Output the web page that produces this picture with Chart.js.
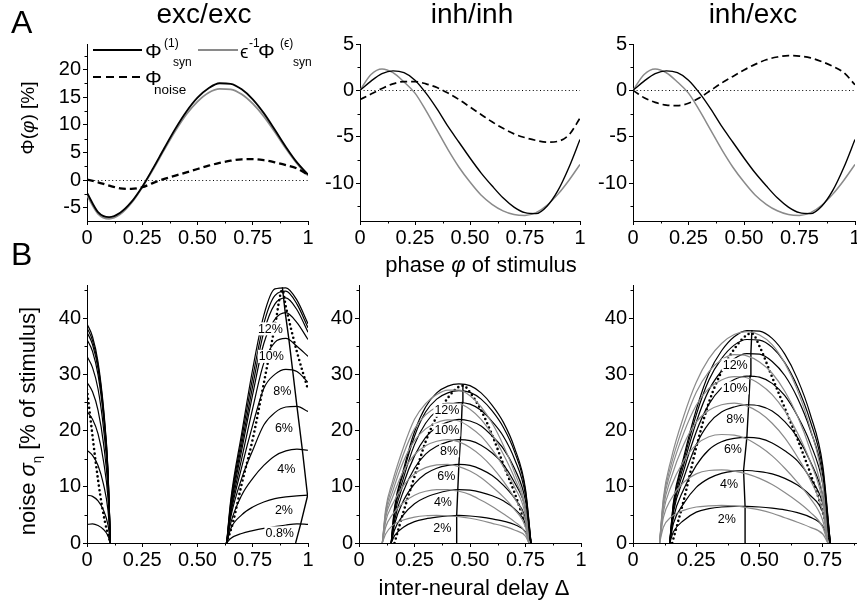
<!DOCTYPE html>
<html>
<head>
<meta charset="utf-8">
<script src="https://cdn.jsdelivr.net/npm/chart.js@4"></script>
<style>
html, body { margin: 0; padding: 0; background: #fff; overflow: hidden; }
#fig { position: relative; width: 857px; height: 606px; overflow: hidden;
       font-family: "Liberation Sans", Arial, sans-serif; color: #000; }
canvas { position: absolute; left: 0; top: 0; }
.t { position: absolute; white-space: nowrap; line-height: 1; }
.c { transform: translateX(-50%); }
.rot { transform: translate(-50%, -50%) rotate(-90deg); }
.ln { position: absolute; }
</style>
</head>
<body>
<div id="fig">
  <canvas id="a1" width="857" height="606"></canvas>
  <canvas id="a2" width="857" height="606"></canvas>
  <canvas id="a3" width="930" height="606"></canvas>
  <canvas id="b1" width="857" height="606"></canvas>
  <canvas id="b2" width="857" height="606"></canvas>
  <canvas id="b3" width="930" height="606"></canvas>

  <div class="t" style="left:11px;top:6px;font-size:32px">A</div>
  <div class="t" style="left:11px;top:238px;font-size:32px">B</div>
  <div class="t c" style="left:204px;top:0px;font-size:28px">exc/exc</div>
  <div class="t c" style="left:472px;top:0px;font-size:28px">inh/inh</div>
  <div class="t c" style="left:753px;top:0px;font-size:28px">inh/exc</div>
  <div class="t c" style="left:481px;top:254px;font-size:22px">phase <i>φ</i> of stimulus</div>
  <div class="t c" style="left:474px;top:577px;font-size:22px">inter-neural delay Δ</div>
  <div class="t rot" style="left:27px;top:118px;font-size:19px">Φ(<i>φ</i>) [%]</div>
  <div class="t rot" style="left:30px;top:421px;font-size:22px">noise <i>σ</i><sub style="font-size:13px">η</sub> [% of stimulus]</div>

  <!-- legend of panel A, exc/exc -->
  <div class="ln" style="left:93px;top:49px;width:49px;height:1.8px;background:#000"></div>
  <div class="t" style="left:145px;top:40px;font-size:21px">Φ</div>
  <div class="t" style="left:164px;top:37px;font-size:12px">(1)</div>
  <div class="t" style="left:173px;top:56px;font-size:12px">syn</div>
  <div class="ln" style="left:198px;top:49px;width:40px;height:1.8px;background:#8a8a8a"></div>
  <div class="t" style="left:240px;top:42px;font-size:19px">ϵ</div>
  <div class="t" style="left:249px;top:37px;font-size:12px">-1</div>
  <div class="t" style="left:258px;top:40px;font-size:21px">Φ</div>
  <div class="t" style="left:280px;top:37px;font-size:12px">(ϵ)</div>
  <div class="t" style="left:293px;top:56px;font-size:12px">syn</div>
  <div class="ln" style="left:93px;top:76px;width:48px;height:2.2px;background:repeating-linear-gradient(90deg,#000 0 8px,transparent 8px 13px)"></div>
  <div class="t" style="left:145px;top:67px;font-size:21px">Φ</div>
  <div class="t" style="left:154px;top:83px;font-size:13.5px">noise</div>
</div>

<script>
const FONT = '"Liberation Sans", Arial, sans-serif';
const GRAY = '#8a8a8a';

// ---- tick values / labels ----
const unitTicks = [0, 0.25, 0.5, 0.75, 1];
const unitTickLabels = ['0', '0.25', '0.50', '0.75', '1'];
const excPhiTicks = [-5, 0, 5, 10, 15, 20];
const inhPhiTicks = [-10, -5, 0, 5];
const noiseTicks = [0, 10, 20, 30, 40];

// ---- panel A: phase response, Phi(phase) in % ----
const phase = [0, 0.05, 0.1, 0.15, 0.2, 0.25, 0.3, 0.35, 0.4, 0.45, 0.5,
               0.55, 0.6, 0.65, 0.7, 0.75, 0.8, 0.85, 0.9, 0.95, 1];
const excSyn    = [-2.3, -5.8, -6.7, -5.9, -4.0, -1.2, 2.2, 5.8, 9.3, 12.4, 14.9,
                   16.6, 17.5, 17.4, 16.4, 14.6, 12.1, 9.1, 6.0, 3.2, 1.0];
const excSynEps = [-2.8, -6.1, -7.0, -6.2, -4.2, -1.3, 2.0, 5.5, 8.9, 11.9, 14.2,
                   15.8, 16.5, 16.4, 15.5, 13.8, 11.5, 8.7, 5.7, 3.0, 0.8];
const excNoise  = [0.1, -0.4, -1.0, -1.5, -1.6, -1.3, -0.5, 0.2, 0.8, 1.4, 2.0,
                   2.6, 3.1, 3.5, 3.75, 3.8, 3.6, 3.2, 2.7, 2.1, 1.0];
const inhSyn    = [0, 1.0, 1.8, 2.1, 1.9, 1.1, -0.3, -2.0, -3.9, -5.6, -7.3,
                   -8.9, -10.3, -11.6, -12.6, -13.2, -13.3, -12.5, -10.8, -8.3, -5.3];
const inhSynEps = [0, 1.7, 2.3, 1.9, 0.9, -0.3, -2.2, -4.3, -6.4, -8.3, -9.9,
                   -11.3, -12.3, -13.0, -13.4, -13.5, -13.2, -12.4, -11.2, -9.7, -8.0];
const inhNoise  = [-1.0, -0.4, 0.2, 0.7, 0.95, 0.95, 0.7, 0.3, -0.3, -1.0, -1.8,
                   -2.6, -3.4, -4.1, -4.7, -5.1, -5.4, -5.6, -5.5, -4.8, -3.0];
const mixNoise  = [0, -0.8, -1.3, -1.6, -1.65, -1.4, -0.8, 0, 0.8, 1.5, 2.2,
                   2.8, 3.3, 3.6, 3.75, 3.7, 3.5, 3.1, 2.6, 1.9, 0.6];

// ---- panel B, exc/exc: noise level vs delay (wraps around at delay 1) ----
const excDelayRight = [0.632, 0.65, 0.7, 0.75, 0.8, 0.85, 0.9, 0.95, 1];
const excDelayLeft  = [0, 0.025, 0.05, 0.075, 0.095, 0.106];
const excRight = [
  [0, 0.8, 1.7, 2.2, 2.6, 2.9, 3.2, 3.4, 3.3],
  [0, 2.5, 5.0, 6.4, 7.3, 7.9, 8.2, 8.4, 8.5],
  [0, 3.5, 8.5, 11.5, 13.8, 15.5, 16.4, 16.7, 16.5],
  [0, 4.5, 11.5, 16.5, 21.0, 23.2, 24.2, 24.3, 23.4],
  [0, 5.0, 13.5, 21.0, 27.5, 30.0, 30.9, 30.5, 28.6],
  [0, 5.5, 15.0, 24.0, 32.0, 35.7, 36.4, 35.0, 33.2],
  [0, 6.0, 16.5, 26.5, 35.5, 39.8, 41.0, 39.2, 36.2],
  [0, 6.5, 17.5, 28.0, 37.5, 42.5, 43.6, 41.5, 37.5],
  [0, 7.0, 18.5, 29.5, 39.0, 44.0, 44.8, 42.5, 38.3],
  [0, 7.5, 19.5, 31.0, 40.5, 45.2, 45.4, 43.2, 39.0]
];
const excLeft = [
  [3.3, 3.4, 3.1, 2.4, 1.3, 0],
  [8.5, 8.3, 7.5, 5.8, 3.2, 0],
  [16.5, 15.6, 13.8, 10.4, 5.8, 0],
  [23.4, 22.0, 19.4, 14.5, 8.0, 0],
  [28.6, 26.9, 23.6, 17.6, 9.6, 0],
  [33.2, 31.2, 27.4, 20.3, 11.1, 0],
  [36.2, 34.1, 29.9, 22.2, 12.1, 0],
  [37.5, 35.3, 31.0, 23.0, 12.5, 0],
  [38.3, 36.0, 31.6, 23.5, 12.8, 0],
  [39.0, 36.7, 32.2, 23.9, 13.0, 0]
];
const excDotRightX = [0.632, 0.66, 0.7, 0.75, 0.8, 0.85, 0.884, 0.9, 0.95, 1];
const excDotRightY = [0, 3.6, 10.5, 18.5, 28.4, 38.5, 45.0, 42.0, 34.0, 27.3];
const excDotLeftX = [0, 0.02, 0.04, 0.06, 0.08, 0.1, 0.106];
const excDotLeftY = [27.3, 20.7, 14.2, 8.5, 4.0, 0.8, 0];
const excRidgeX = [0.884, 0.897, 0.913, 0.93, 0.95, 0.974, 0.998, 0.967, 0.944];
const excRidgeY = [45.5, 41.0, 36.4, 30.9, 24.3, 16.7, 8.4, 3.4, 0];
const excLabels = ['12%', '10%', '8%', '6%', '4%', '2%', '0.8%'];
const excLabelX = [0.83, 0.834, 0.884, 0.891, 0.902, 0.891, 0.872];
const excLabelY = [38.1, 33.2, 27.1, 20.4, 13.2, 5.9, 1.8];

// ---- panel B, inh/inh ----
const inhDelayBlack = [0.145, 0.16, 0.2, 0.25, 0.3, 0.35, 0.4, 0.45, 0.5, 0.55, 0.6, 0.65, 0.7, 0.75, 0.775];
const inhDelayGray  = [0.105, 0.12, 0.15, 0.2, 0.25, 0.3, 0.35, 0.4, 0.45, 0.5, 0.55, 0.6, 0.65, 0.7, 0.75, 0.765];
const inhBlack = [
  [0, 1.3, 2.8, 3.8, 4.3, 4.6, 4.8, 4.9, 4.8, 4.6, 4.3, 3.9, 3.3, 2.0, 0],
  [0, 2.3, 5.0, 7.0, 8.1, 8.8, 9.3, 9.5, 9.4, 9.0, 8.4, 7.5, 6.1, 3.5, 0],
  [0, 3.3, 7.5, 10.5, 12.3, 13.3, 13.8, 14.0, 13.8, 13.1, 12.0, 10.3, 8.0, 4.5, 0],
  [0, 4.0, 9.2, 13.3, 15.8, 17.2, 18.0, 18.4, 18.2, 17.4, 16.0, 14.0, 10.8, 6.2, 0],
  [0, 4.8, 10.5, 15.5, 18.8, 20.6, 21.5, 22.0, 21.7, 20.8, 19.0, 16.8, 13.3, 7.5, 0],
  [0, 5.5, 11.5, 17.5, 21.3, 23.5, 24.5, 25.0, 24.7, 23.6, 21.6, 19.0, 15.0, 8.5, 0],
  [0, 6.0, 12.5, 19.0, 23.3, 25.6, 26.7, 27.1, 26.8, 25.6, 23.5, 20.6, 16.3, 9.2, 0],
  [0, 6.3, 13.0, 19.8, 24.2, 26.7, 27.9, 28.3, 28.0, 26.7, 24.5, 21.5, 17.0, 9.6, 0]
];
const inhGray = [
  [0, 1.6, 3.1, 4.1, 4.6, 4.85, 4.9, 4.85, 4.7, 4.4, 4.0, 3.5, 3.0, 2.3, 1.2, 0],
  [0, 2.8, 5.0, 7.2, 8.5, 9.2, 9.5, 9.5, 9.2, 8.6, 7.6, 6.5, 5.2, 3.8, 1.8, 0],
  [0, 3.8, 6.8, 10.2, 12.3, 13.4, 13.9, 14.0, 13.6, 12.8, 11.6, 10.0, 8.2, 6.0, 2.8, 0],
  [0, 4.5, 8.0, 12.8, 15.7, 17.3, 18.1, 18.4, 18.0, 17.0, 15.5, 13.5, 11.0, 8.0, 3.8, 0],
  [0, 5.0, 9.0, 14.5, 18.2, 20.3, 21.4, 21.9, 21.7, 20.6, 19.0, 16.6, 13.6, 10.0, 4.8, 0],
  [0, 5.5, 10.0, 15.8, 20.3, 22.8, 24.2, 24.9, 24.8, 23.8, 22.0, 19.3, 15.8, 11.6, 5.5, 0],
  [0, 6.0, 10.8, 17.0, 22.0, 24.8, 26.4, 27.2, 27.2, 26.2, 24.2, 21.3, 17.4, 12.6, 6.0, 0]
];
const inhDotX = [0.16, 0.2, 0.25, 0.3, 0.35, 0.4, 0.45, 0.47, 0.5, 0.55, 0.6, 0.65, 0.7, 0.75, 0.775];
const inhDotY = [0, 5.5, 11.8, 18.0, 22.5, 25.8, 27.8, 28.0, 26.8, 23.6, 19.2, 14.0, 9.0, 3.2, 0];
const inhRidgeX = [0.438, 0.44, 0.445, 0.45, 0.457, 0.462, 0.465, 0.468];
const inhRidgeY = [0, 4.9, 9.5, 14.0, 18.4, 22.0, 25.0, 28.3];
const inhLabels = ['12%', '10%', '8%', '6%', '4%', '2%'];
const inhLabelX = [0.396, 0.396, 0.406, 0.393, 0.378, 0.375];
const inhLabelY = [23.6, 20.1, 16.4, 11.9, 7.3, 2.7];

// ---- panel B, inh/exc ----
const mixDelayBlack = [0.145, 0.16, 0.2, 0.25, 0.3, 0.35, 0.4, 0.45, 0.5, 0.55, 0.6, 0.65, 0.7, 0.75, 0.78];
const mixDelayGray  = [0.105, 0.12, 0.15, 0.2, 0.25, 0.3, 0.35, 0.4, 0.45, 0.5, 0.55, 0.6, 0.65, 0.7, 0.75, 0.77];
const mixBlack = [
  [0, 2.0, 4.0, 5.5, 6.1, 6.4, 6.5, 6.5, 6.4, 6.2, 5.9, 5.4, 4.6, 3.0, 0],
  [0, 3.5, 7.0, 9.9, 11.5, 12.4, 12.8, 12.9, 12.7, 12.3, 11.5, 10.3, 8.5, 5.5, 0],
  [0, 4.5, 9.5, 13.8, 16.6, 18.0, 18.6, 18.8, 18.6, 17.8, 16.4, 14.6, 11.6, 7.0, 0],
  [0, 5.5, 11.5, 17.5, 21.3, 23.3, 24.2, 24.6, 24.4, 23.5, 21.6, 18.8, 14.6, 8.5, 0],
  [0, 6.0, 12.8, 19.8, 24.7, 27.6, 29.1, 29.7, 29.5, 28.4, 26.2, 22.6, 17.8, 10.5, 0],
  [0, 6.5, 13.8, 21.5, 27.2, 30.6, 32.8, 33.7, 33.6, 32.3, 29.8, 25.8, 20.2, 12.0, 0],
  [0, 7.0, 14.6, 22.8, 29.0, 32.8, 35.2, 36.2, 36.1, 34.8, 32.1, 27.8, 21.8, 13.0, 0],
  [0, 7.3, 15.2, 23.7, 30.2, 34.2, 36.7, 37.8, 37.7, 36.4, 33.6, 29.2, 23.0, 13.8, 0]
];
const mixGray = [
  [0, 2.8, 4.6, 5.8, 6.4, 6.6, 6.7, 6.6, 6.3, 5.9, 5.3, 4.5, 3.7, 2.8, 1.6, 0],
  [0, 4.5, 7.8, 10.8, 12.3, 12.9, 13.0, 12.8, 12.3, 11.5, 10.4, 9.0, 7.4, 5.5, 2.8, 0],
  [0, 5.5, 10.0, 14.6, 17.5, 18.9, 19.3, 19.2, 18.5, 17.2, 15.5, 13.3, 10.8, 8.0, 4.0, 0],
  [0, 6.3, 11.5, 17.5, 21.5, 23.6, 24.6, 24.9, 24.4, 23.2, 21.3, 18.7, 15.3, 11.3, 5.5, 0],
  [0, 7.0, 12.8, 19.5, 24.5, 27.5, 29.0, 29.6, 29.4, 28.3, 26.4, 23.5, 19.6, 14.5, 7.2, 0],
  [0, 7.5, 13.8, 21.0, 26.8, 30.5, 32.6, 33.5, 33.3, 32.2, 30.2, 27.0, 22.6, 16.6, 8.3, 0],
  [0, 8.0, 14.8, 22.5, 28.6, 32.8, 35.5, 37.1, 37.6, 37.0, 35.3, 32.0, 27.2, 20.5, 10.5, 0]
];
const mixDotX = [0.155, 0.2, 0.25, 0.3, 0.35, 0.4, 0.45, 0.47, 0.5, 0.55, 0.6, 0.65, 0.7, 0.75, 0.78];
const mixDotY = [0, 7.5, 17.0, 25.0, 30.5, 34.5, 37.0, 37.3, 35.0, 29.5, 24.0, 18.5, 12.5, 5.5, 0];
const mixRidgeX = [0.446, 0.443, 0.437, 0.45, 0.457, 0.463, 0.466, 0.47];
const mixRidgeY = [0, 6.5, 12.9, 18.8, 24.6, 29.7, 33.8, 37.9];
const mixLabels = ['12%', '10%', '8%', '6%', '4%', '2%'];
const mixLabelX = [0.404, 0.404, 0.404, 0.395, 0.38, 0.371];
const mixLabelY = [31.7, 27.6, 22.0, 16.7, 10.5, 4.3];

// ---------------------------------------------------------------
function pts(xs, ys) { return xs.map((x, i) => ({ x: x, y: ys[i] })); }

function line(xs, ys, color, width, extra) {
  return Object.assign({
    data: pts(xs, ys), borderColor: color, borderWidth: width,
    pointRadius: 0, fill: false, cubicInterpolationMode: 'monotone'
  }, extra || {});
}
function dotted(xs, ys) {
  return line(xs, ys, '#000', 2.6, { borderDash: [0, 4.6], borderCapStyle: 'round' });
}
function ridge(xs, ys) {
  return line(xs, ys, '#000', 1.4, { cubicInterpolationMode: 'default', tension: 0 });
}

function isMajor(values, v) { return values.some(t => Math.abs(t - v) < 1e-6); }

function tickCb(values, labels) {
  return v => {
    const i = values.findIndex(t => Math.abs(t - v) < 1e-6);
    return i < 0 ? '' : labels[i];
  };
}

// major ticks come from the grid; minor ones are drawn shorter by the plugin
function axis(min, max, step, majors, labels, horizontal) {
  return {
    type: 'linear', min: min, max: max,
    border: { display: true, color: '#000', width: 1 },
    grid: {
      drawOnChartArea: false, color: '#000', tickLength: 4, lineWidth: 1,
      tickColor: c => isMajor(majors, c.tick.value) ? '#000' : 'rgba(0,0,0,0)'
    },
    ticks: {
      stepSize: step, includeBounds: false, autoSkip: false, maxRotation: 0,
      padding: horizontal ? 1 : 2, color: '#000',
      font: { family: FONT, size: 20 }, callback: tickCb(majors, labels)
    },
    afterFit: s => { if (horizontal) s.height = 30; else s.width = 60; }
  };
}

// dotted zero line (panel A), minor ticks, and percent labels (panel B)
const extrasPlugin = {
  id: 'extras',
  beforeDatasetsDraw(chart, args, o) {
    if (!o.zero) return;
    const { ctx, chartArea: a, scales: { y } } = chart;
    const py = Math.round(y.getPixelForValue(0)) + 0.5;
    ctx.save();
    ctx.strokeStyle = '#000'; ctx.lineWidth = 1; ctx.setLineDash([1, 2.6]);
    ctx.beginPath(); ctx.moveTo(a.left, py); ctx.lineTo(a.right, py); ctx.stroke();
    ctx.restore();
  },
  afterDatasetsDraw(chart, args, o) {
    const { ctx, chartArea: a, scales: { x, y } } = chart;
    ctx.save();
    ctx.strokeStyle = '#000'; ctx.lineWidth = 1;
    ctx.beginPath();
    x.ticks.forEach(t => {
      if (isMajor(unitTicks, t.value)) return;
      const px = Math.round(x.getPixelForValue(t.value)) + 0.5;
      ctx.moveTo(px, a.bottom); ctx.lineTo(px, a.bottom + 2.5);
    });
    y.ticks.forEach(t => {
      if (t.label !== '') return;
      const py = Math.round(y.getPixelForValue(t.value)) + 0.5;
      ctx.moveTo(a.left, py); ctx.lineTo(a.left - 2.5, py);
    });
    ctx.stroke();

    if (o.texts) {
      ctx.font = '12.5px ' + FONT;
      ctx.textAlign = 'center'; ctx.textBaseline = 'middle';
      o.texts.forEach((t, i) => {
        const px = x.getPixelForValue(o.xs[i]), py = y.getPixelForValue(o.ys[i]);
        const w = ctx.measureText(t).width + 2;
        ctx.fillStyle = '#fff'; ctx.fillRect(px - w / 2, py - 6.5, w, 13);
        ctx.fillStyle = '#000'; ctx.fillText(t, px, py + 0.5);
      });
    }
    ctx.restore();
  }
};

function makeChart(id, area, xMax, yAxis, datasets, extras) {
  const cv = document.getElementById(id);
  const W = cv.width, H = cv.height;
  return new Chart(cv, {
    type: 'line',
    data: { datasets: datasets },
    options: {
      responsive: false, animation: false, devicePixelRatio: 1,
      layout: { padding: { left: area[0] - 60, top: area[1], right: W - area[2], bottom: H - area[3] - 30 } },
      scales: { x: axis(0, xMax, 0.125, unitTicks, unitTickLabels, true), y: yAxis },
      plugins: { legend: { display: false }, tooltip: { enabled: false }, extras: extras }
    },
    plugins: [extrasPlugin]
  });
}

const phiAxisExc = () => axis(-7.4, 24.6, 2.5, excPhiTicks, excPhiTicks.map(String), false);
const phiAxisInh = () => axis(-14.1, 5, 2.5, inhPhiTicks, inhPhiTicks.map(String), false);
const noiseAxis = () => axis(0, 45.9, 5, noiseTicks, noiseTicks.map(String), false);

// A: exc/exc
makeChart('a1', [87, 44, 308, 221], 1, phiAxisExc(), [
  line(phase, excNoise, '#000', 2.3, { borderDash: [7, 4] }),
  line(phase, excSyn, '#000', 1.8),
  line(phase, excSynEps, GRAY, 1.8)
], { zero: true });

// A: inh/inh
makeChart('a2', [360, 44, 580, 221], 1, phiAxisInh(), [
  line(phase, inhNoise, '#000', 1.7, { borderDash: [7, 4] }),
  line(phase, inhSyn, '#000', 1.4),
  line(phase, inhSynEps, GRAY, 1.5)
], { zero: true });

// A: inh/exc
makeChart('a3', [633, 44, 855, 221], 1, phiAxisInh(), [
  line(phase, mixNoise, '#000', 1.7, { borderDash: [7, 4] }),
  line(phase, inhSyn, '#000', 1.4),
  line(phase, inhSynEps, GRAY, 1.5)
], { zero: true });

// B: exc/exc
const b1Sets = [];
excRight.forEach(r => b1Sets.push(line(excDelayRight, r, '#000', 1.2)));
excLeft.forEach(r => b1Sets.push(line(excDelayLeft, r, '#000', 1.2)));
b1Sets.push(dotted(excDotRightX, excDotRightY), dotted(excDotLeftX, excDotLeftY), ridge(excRidgeX, excRidgeY));
makeChart('b1', [87, 285, 308, 543], 1, noiseAxis(), b1Sets,
  { texts: excLabels, xs: excLabelX, ys: excLabelY });

// B: inh/inh
const b2Sets = [];
inhGray.forEach(r => b2Sets.push(line(inhDelayGray, r, GRAY, 1.2)));
inhBlack.forEach(r => b2Sets.push(line(inhDelayBlack, r, '#000', 1.2)));
b2Sets.push(dotted(inhDotX, inhDotY), ridge(inhRidgeX, inhRidgeY));
makeChart('b2', [359, 285, 581, 543], 1, noiseAxis(), b2Sets,
  { texts: inhLabels, xs: inhLabelX, ys: inhLabelY });

// B: inh/exc (axis runs past the right edge of the figure)
const b3Sets = [];
mixGray.forEach(r => b3Sets.push(line(mixDelayGray, r, GRAY, 1.2)));
mixBlack.forEach(r => b3Sets.push(line(mixDelayBlack, r, '#000', 1.2)));
b3Sets.push(dotted(mixDotX, mixDotY), ridge(mixRidgeX, mixRidgeY));
makeChart('b3', [633, 285, 886, 543], 1, noiseAxis(), b3Sets,
  { texts: mixLabels, xs: mixLabelX, ys: mixLabelY });
</script>
</body>
</html>
